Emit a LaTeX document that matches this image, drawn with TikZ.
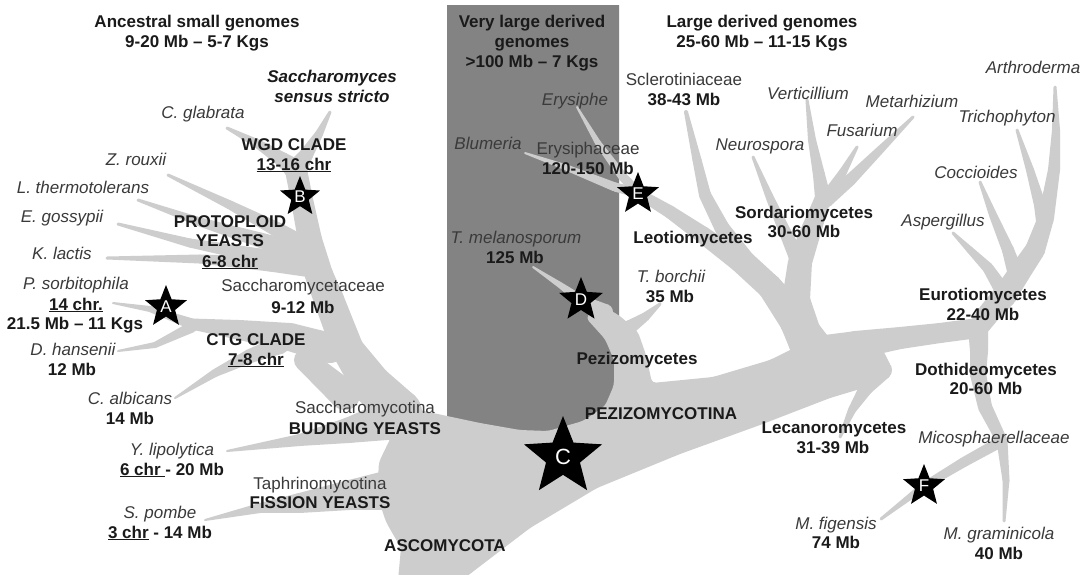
\documentclass[tikz,border=0pt]{standalone}
\usepackage{fontspec}
\setmainfont{Liberation Sans}
\usetikzlibrary{calc,shapes.geometric}
\definecolor{treegray}{HTML}{CDCDCD}
\definecolor{boxgray}{HTML}{838383}
\definecolor{bk}{HTML}{1A1A1A}
\definecolor{spc}{HTML}{3A3A3A}
\newcommand{\tseg}[6]{\fill[treefill] ($(#1,#2)!#3*0.5pt!90:(#4,#5)$) -- ($(#1,#2)!#3*0.5pt!-90:(#4,#5)$) -- ($(#4,#5)!#6*0.5pt!90:(#1,#2)$) -- ($(#4,#5)!#6*0.5pt!-90:(#1,#2)$) -- cycle;}
\newcommand{\branch}[1]{%
  \foreach \px/\py/\pw [count=\kk, remember=\px as \qx (initially 0), remember=\py as \qy (initially 0), remember=\pw as \qw (initially 0)] in {#1}{%
    \ifnum\kk>1 \tseg{\qx}{\qy}{\qw}{\px}{\py}{\pw}\fi
    \fill[treefill] (\px,\py) circle[radius=\pw*0.5pt];
  }}
\begin{document}
\begin{tikzpicture}[x=1pt,y=-1pt,
  treefill/.style={fill=treegray},
  starshape/.style={star, star points=5, star point ratio=2.3, fill=black, draw=none, inner sep=0pt},
  starlab/.style={font=\fontsize{17}{20}\selectfont, text=white, inner sep=0pt},
  bl/.style={font=\fontsize{17}{20}\selectfont\bfseries, text=bk, inner sep=0pt, anchor=base},
  bi/.style={font=\fontsize{17}{20}\selectfont\bfseries\itshape, text=bk, inner sep=0pt, anchor=base},
  it/.style={font=\fontsize{17}{20}\selectfont\itshape, text=spc, inner sep=0pt, anchor=base},
  rg/.style={font=\fontsize{17}{20}\selectfont, text=spc, inner sep=0pt, anchor=base}]
\useasboundingbox (0,0) rectangle (1091,574);
\fill[white] (0,0) rectangle (1091,574);
% dark box
\fill[boxgray] (447,5) -- (619,5) -- (619,370) .. controls (619,420) and (590,437) .. (540,437) .. controls (500,437) and (470,430) .. (447,420) -- cycle;
% central mass
\fill[treefill, rounded corners=4pt] (398,580) -- (401,548) -- (386,522) -- (377,495) -- (379,462) -- (392,435) -- (410,408) -- (447,416) -- (480,423) -- (520,430) -- (548,431) -- (583,421) -- (605,406) -- (614,385) -- (614,360) -- (605,339) -- (586,318) -- (598,303) -- (620,316) -- (638,332) -- (646,355) -- (652,383) -- (713,377) -- (770,360) -- (800,345) -- (860,345) -- (885,372) -- (870,386) -- (830,398) -- (760,425) -- (680,454) -- (597,488) -- (530,528) -- (462,580) -- cycle;
% Saccharomycotina
\branch{296/170/22, 302/200/22, 310/240/24, 319/275/28, 329/300/30, 348/350/32, 372/385/40, 400/412/44}
\branch{227/128/3, 258/144/9, 283/160/15, 296/170/22}
\branch{330/112/3, 319/134/8, 306/155/14, 296/170/22}
\branch{168/175/3, 230/205/9, 278/230/15, 310/250/20}
\branch{138/200/3, 200/222/9, 260/240/15, 310/255/20}
\branch{118/224/3, 190/243/9, 260/256/15, 312/262/20}
\branch{107/258/3, 200/259/9, 270/264/15, 315/268/20}
\branch{113/303/2, 150/309/6, 192/324/11, 240/330/20, 290/337/28, 330/348/30}
\branch{118/351/2, 155/345/6, 192/327/11}
\branch{175/398/2, 215/373/8, 250/356/14, 280/345/18}
\branch{305/360/22, 345/395/30}
\branch{227/451/2, 300/440/12, 350/430/26, 390/420/40}
\branch{205/520/2, 260/508/10, 300/503/20, 350/495/30, 390/490/40}
% Pezizomycotina
\branch{533/267/2, 560/285/6, 581/300/10, 605/312/16}
\branch{660/304/3, 645/317/9, 630/327/14}
\branch{638/193/10, 670/212/13, 703/235/17, 740/262/21, 770/287/25, 795/320/32, 812/350/40}
\branch{577/107/2, 598/143/6, 623/177/9, 638/193/10}
\branch{525/153/2, 565/167/6, 615/187/9, 638/193/10}
\branch{686/112/4, 697/160/9, 705/195/12, 722/228/15, 745/260/19, 770/287/25}
\branch{823/198/16, 812/228/20, 800/262/24, 796/300/28, 803/333/36, 815/355/44}
\branch{807/100/3, 812/140/8, 819/175/12, 823/198/16}
\branch{857/147/3, 843/172/8, 828/196/13}
\branch{913/117/3, 880/150/8, 850/180/12, 826/200/15}
\branch{753/157/3, 770/198/8, 785/232/12, 798/260/16}
\branch{815/358/44, 855/345/28, 900/338/22, 940/333/20, 978/328/20}
\branch{978/328/20, 990/312/22, 1005/295/24, 1018/275/22, 1035/250/20, 1046/218/16, 1054/170/12, 1056/130/8, 1055/87/3}
\branch{1017/130/3, 1030/170/8, 1040/205/12, 1044/225/15}
\branch{980/182/3, 993/215/8, 1008/250/12, 1016/275/16}
\branch{953/233/3, 970/250/7, 988/268/11, 1002/290/15}
\branch{978/328/20, 979/351/18, 978/374/16, 985/407/14, 1002/441/11, 1006/480/7, 1004/521/3}
\branch{881/519/3, 924/486/8, 964/462/10, 1002/441/11}
\branch{840/437/3, 852/410/8, 866/388/14, 882/370/20, 870/355/28}
% stars
\node[starshape, minimum size=44pt] (sA) at (166,307) {};
\node[starshape, minimum size=42pt] (sB) at (300,197) {};
\node[starshape, minimum size=82pt] (sC) at (563,457) {};
\node[starshape, minimum size=46pt] (sD) at (581,300) {};
\node[starshape, minimum size=44pt] (sE) at (638,194) {};
\node[starshape, minimum size=44pt] (sF) at (924,486) {};
\node[starlab] (lA) at (sA) {A};
\node[starlab] (lB) at (sB) {B};
\node[starlab, font=\fontsize{22}{24}\selectfont] (lC) at (sC) {C};
\node[starlab] (lD) at (sD) {D};
\node[starlab] (lE) at (sE) {E};
\node[starlab] (lF) at (sF) {F};
% texts left
\node[bl] (t1) at (197,27) {Ancestral small genomes};
\node[bl] (t2) at (197,47) {9-20 Mb -- 5-7 Kgs};
\node[bi] (t3) at (332,82) {Saccharomyces};
\node[bi] (t4) at (332,102) {sensus stricto};
\node[it] (t5) at (203,118) {C. glabrata};
\node[bl] (t6) at (294,150) {WGD CLADE};
\node[bl] (t7) at (294,170) {\underline{13-16 chr}};
\node[it] (t8) at (136,165) {Z. rouxii};
\node[it] (t9) at (83,193) {L. thermotolerans};
\node[it] (t10) at (62,222) {E. gossypii};
\node[it] (t11) at (62,259) {K. lactis};
\node[bl] (t12) at (230,227) {PROTOPLOID};
\node[bl] (t13) at (230,246) {YEASTS};
\node[bl] (t14) at (230,267) {\underline{6-8 chr}};
\node[it] (t15) at (76,289) {P. sorbitophila};
\node[bl] (t16) at (76,310) {\underline{14 chr.}};
\node[bl] (t17) at (75,329) {21.5 Mb -- 11 Kgs};
\node[rg] (t18) at (303,291) {Saccharomycetaceae};
\node[bl] (t19) at (303,313) {9-12 Mb};
\node[bl] (t20) at (256,345) {CTG CLADE};
\node[bl] (t21) at (256,365) {\underline{7-8 chr}};
\node[it] (t22) at (73,355) {D. hansenii};
\node[bl] (t23) at (72,375) {12 Mb};
\node[it] (t24) at (130,404) {C. albicans};
\node[bl] (t25) at (130,424) {14 Mb};
\node[rg] (t26) at (365,413) {Saccharomycotina};
\node[bl] (t27) at (365,434) {BUDDING YEASTS};
\node[it] (t28) at (172,455) {Y. lipolytica};
\node[bl] (t29) at (172,475) {\underline{6 chr }- 20 Mb};
\node[rg] (t30) at (320,489) {Taphrinomycotina};
\node[bl] (t31) at (320,508) {FISSION YEASTS};
\node[it] (t32) at (160,518) {S. pombe};
\node[bl] (t33) at (160,538) {\underline{3 chr} - 14 Mb};
\node[bl] (t34) at (445,551) {ASCOMYCOTA};
% texts middle / right
\node[bl] (t35) at (532,27) {Very large derived};
\node[bl] (t36) at (532,47) {genomes};
\node[bl] (t37) at (532,67) {>100 Mb -- 7 Kgs};
\node[bl] (t38) at (762,27) {Large derived genomes};
\node[bl] (t39) at (762,47) {25-60 Mb -- 11-15 Kgs};
\node[rg] (t40) at (684,85) {Sclerotiniaceae};
\node[bl] (t41) at (684,105) {38-43 Mb};
\node[it] (t42) at (575,105) {Erysiphe};
\node[it] (t43) at (808,99) {Verticillium};
\node[it] (t44) at (912,107) {Metarhizium};
\node[it] (t45) at (1033,73) {Arthroderma};
\node[it] (t46) at (1007,122) {Trichophyton};
\node[it] (t47) at (862,136) {Fusarium};
\node[it] (t48) at (488,149) {Blumeria};
\node[rg] (t49) at (588,154) {Erysiphaceae};
\node[bl] (t50) at (588,174) {120-150 Mb};
\node[it] (t51) at (760,150) {Neurospora};
\node[it] (t52) at (976,178) {Coccioides};
\node[bl] (t53) at (804,218) {Sordariomycetes};
\node[bl] (t54) at (804,237) {30-60 Mb};
\node[it] (t55) at (943,226) {Aspergillus};
\node[it] (t56) at (516,243) {T. melanosporum};
\node[bl] (t57) at (515,263) {125 Mb};
\node[bl] (t58) at (693,243) {Leotiomycetes};
\node[it] (t59) at (671,282) {T. borchii};
\node[bl] (t60) at (670,302) {35 Mb};
\node[bl] (t61) at (983,300) {Eurotiomycetes};
\node[bl] (t62) at (983,320) {22-40 Mb};
\node[bl] (t63) at (637,364) {Pezizomycetes};
\node[bl] (t64) at (986,375) {Dothideomycetes};
\node[bl] (t65) at (986,394) {20-60 Mb};
\node[bl] (t66) at (661,419) {PEZIZOMYCOTINA};
\node[bl] (t67) at (834,433) {Lecanoromycetes};
\node[bl] (t68) at (833,453) {31-39 Mb};
\node[it] (t69) at (994,443) {Micosphaerellaceae};
\node[it] (t70) at (836,529) {M. figensis};
\node[bl] (t71) at (836,548) {74 Mb};
\node[it] (t72) at (999,539) {M. graminicola};
\node[bl] (t73) at (999,559) {40 Mb};
\end{tikzpicture}
\end{document}
